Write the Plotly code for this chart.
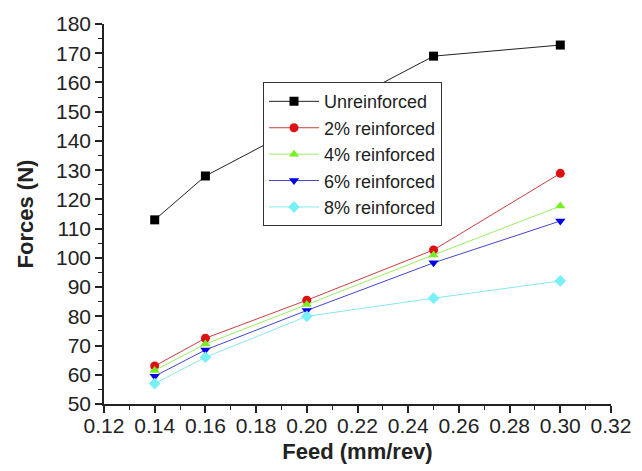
import plotly.graph_objects as go

feed = [0.14, 0.16, 0.20, 0.25, 0.30]
unreinforced = [113, 128, 169, 172.8]
feed_unr = [0.14, 0.16, 0.25, 0.30]
r2 = [63, 72.5, 85.5, 102.7, 128.9]
r4 = [61.5, 70.5, 84, 101, 117.7]
r6 = [59.5, 68.5, 82, 98.3, 112.6]
r8 = [57, 66, 80, 86.2, 92.1]

names = ["Unreinforced", "2% reinforced", "4% reinforced", "6% reinforced", "8% reinforced"]
line_colors = ["#222222", "#c84040", "#99ee66", "#4444cc", "#88e8f0"]
marker_colors = ["#000000", "#dd1111", "#77ee22", "#0000ee", "#77f0f8"]
symbols = ["square", "circle", "triangle-up", "triangle-down", "diamond"]
xs = [feed_unr, feed, feed, feed, feed]
ys = [unreinforced, r2, r4, r6, r8]

fig = go.Figure()
for x, y, n, lc, mc, s in zip(xs, ys, names, line_colors, marker_colors, symbols):
    fig.add_trace(go.Scatter(x=x, y=y, name=n, mode="lines+markers",
                             line=dict(color=lc, width=1),
                             marker=dict(symbol=s, color=mc, size=9, line=dict(width=0))))

fam = "Liberation Sans, Arial, sans-serif"
fig.update_layout(
    width=642, height=471,
    margin=dict(l=104, r=31, t=24, b=67),
    paper_bgcolor="white", plot_bgcolor="white",
    font=dict(family=fam, size=20, color="#222"),
    showlegend=True,
    legend=dict(x=0.3136, y=0.847, xanchor="left", yanchor="top",
                bordercolor="#333", borderwidth=1, bgcolor="white",
                font=dict(family=fam, size=18, color="#222"),
                tracegroupgap=0, itemwidth=50),
    xaxis=dict(range=[0.12, 0.32], tickvals=[0.12, 0.14, 0.16, 0.18, 0.20, 0.22, 0.24, 0.26, 0.28, 0.30, 0.32],
               tickformat=".2f", showgrid=False, zeroline=False, showline=True, linecolor="#222", linewidth=1.5,
               ticks="outside", ticklen=7, tickwidth=1.5, tickcolor="#222", automargin=False,
               tickfont=dict(size=21), ticklabelstandoff=-5,
               minor=dict(dtick=0.01, ticks="outside", ticklen=4, tickwidth=1.2, tickcolor="#222"),
               title=dict(text="<b>Feed (mm/rev)</b>", font=dict(size=22), standoff=8)),
    yaxis=dict(range=[50, 180], dtick=10, showgrid=False, zeroline=False, showline=True, linecolor="#222", linewidth=1.5,
               ticks="outside", ticklen=7, tickwidth=1.5, tickcolor="#222", automargin=False,
               tickfont=dict(size=21),
               minor=dict(dtick=5, ticks="outside", ticklen=4, tickwidth=1.2, tickcolor="#222"),
               title=dict(text="<b>Forces (N)</b>", font=dict(size=22), standoff=16)),
)
fig.write_html("out.html")
